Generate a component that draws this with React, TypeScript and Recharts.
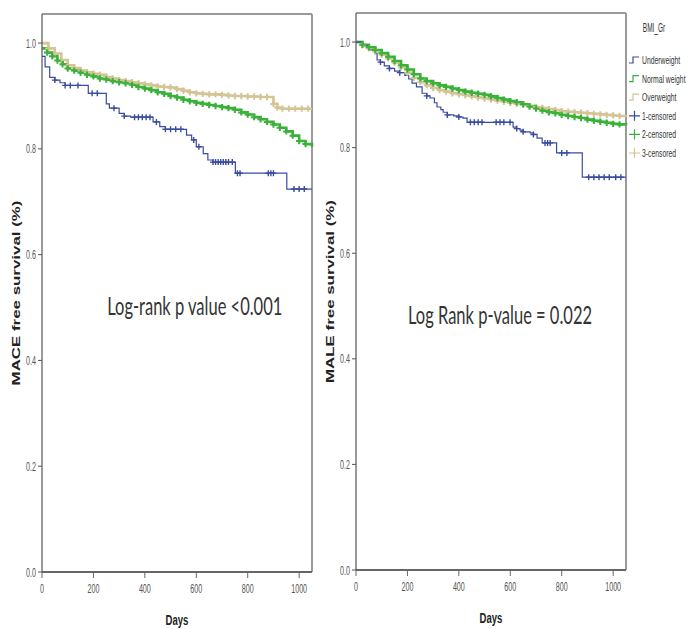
import React from 'react';
import { LineChart, Line, XAxis, YAxis, ReferenceLine, ReferenceDot } from 'recharts';

// [day, survival, censored]
type KM = [number, number, number?][];

const DAY_TICKS = [0, 200, 400, 600, 800, 1000];
const SURV_TICKS = [0, 0.2, 0.4, 0.6, 0.8, 1.0];
const GROUPS = ['Underweight', 'Normal weight', 'Overweight'];
const CENSORED = ['1-censored', '2-censored', '3-censored'];
const COLORS = ['#3a4c9e', '#3ab23a', '#d4c596'];

// MACE panel
const maceUnder: KM = [
  [0, 0.975], [12, 0.955], [30, 0.935], [50, 0.93, 1], [70, 0.925], [90, 0.92, 1], [110, 0.92, 1],
  [140, 0.92, 1], [180, 0.905], [195, 0.905, 1], [215, 0.905, 1], [250, 0.885], [262, 0.877],
  [280, 0.877, 1], [300, 0.867], [320, 0.862, 1], [345, 0.86], [360, 0.86, 1], [375, 0.86, 1],
  [390, 0.86, 1], [405, 0.86, 1], [420, 0.86, 1], [432, 0.851], [445, 0.851, 1], [458, 0.842],
  [480, 0.837, 1], [500, 0.837, 1], [520, 0.837, 1], [540, 0.837, 1], [562, 0.826], [582, 0.817],
  [590, 0.817, 1], [600, 0.804], [610, 0.804, 1], [627, 0.791], [645, 0.779], [665, 0.775, 1],
  [675, 0.775, 1], [685, 0.775, 1], [695, 0.775, 1], [705, 0.775, 1], [715, 0.775, 1], [725, 0.775, 1],
  [740, 0.775, 1], [752, 0.754], [760, 0.754, 1], [770, 0.754, 1], [880, 0.754, 1], [890, 0.754, 1],
  [900, 0.754, 1], [952, 0.724], [980, 0.724, 1], [1000, 0.724, 1], [1020, 0.724, 1], [1050, 0.724],
];
const maceNormal: KM = [
  [0, 0.99], [20, 0.982], [40, 0.975], [60, 0.967], [80, 0.96], [100, 0.952], [125, 0.948], [150, 0.944],
  [175, 0.94], [200, 0.937], [225, 0.933], [250, 0.931], [275, 0.928], [300, 0.926], [325, 0.924],
  [350, 0.921], [375, 0.917], [400, 0.914], [425, 0.911], [450, 0.907], [475, 0.904], [500, 0.9],
  [525, 0.897], [550, 0.893], [575, 0.89], [600, 0.887], [625, 0.885], [650, 0.883], [675, 0.881],
  [700, 0.879], [725, 0.877], [750, 0.874], [775, 0.869], [800, 0.865], [825, 0.86], [850, 0.856],
  [875, 0.851], [900, 0.846], [925, 0.84], [950, 0.833], [975, 0.825], [1000, 0.815], [1025, 0.809],
  [1050, 0.804],
];
const maceOver: KM = [
  [0, 1.0], [25, 0.99], [50, 0.98], [75, 0.968], [100, 0.958], [125, 0.953], [150, 0.948], [175, 0.945],
  [200, 0.942], [225, 0.94], [250, 0.936], [275, 0.933], [300, 0.93], [325, 0.928], [350, 0.926],
  [375, 0.924], [400, 0.922], [425, 0.92], [450, 0.918], [475, 0.917], [500, 0.916], [525, 0.913],
  [550, 0.91], [575, 0.907], [600, 0.905], [625, 0.904], [650, 0.903], [675, 0.903], [700, 0.902],
  [725, 0.901], [750, 0.9], [775, 0.9], [800, 0.899], [825, 0.899], [850, 0.898], [875, 0.898],
  [900, 0.885], [915, 0.878], [935, 0.876], [960, 0.876], [985, 0.876], [1010, 0.876], [1035, 0.876],
  [1050, 0.876],
];

// MALE panel
const maleUnder: KM = [
  [0, 1.0], [25, 0.993], [50, 0.985], [75, 0.978], [82, 0.966], [95, 0.962, 1], [110, 0.955],
  [130, 0.95, 1], [150, 0.945], [170, 0.942, 1], [190, 0.937], [205, 0.93], [218, 0.922], [235, 0.915],
  [257, 0.903], [275, 0.898, 1], [288, 0.894], [305, 0.885], [315, 0.877], [330, 0.872], [339, 0.867],
  [355, 0.862, 1], [380, 0.86], [400, 0.858, 1], [416, 0.856], [432, 0.848], [445, 0.848, 1],
  [460, 0.848, 1], [475, 0.848, 1], [490, 0.848, 1], [545, 0.848, 1], [560, 0.848, 1], [575, 0.848, 1],
  [599, 0.848, 1], [611, 0.839], [625, 0.836, 1], [638, 0.833], [650, 0.83, 1], [677, 0.828],
  [690, 0.825, 1], [704, 0.818], [724, 0.809], [735, 0.809, 1], [745, 0.809, 1], [755, 0.809, 1],
  [780, 0.79], [800, 0.79, 1], [820, 0.79, 1], [880, 0.744], [905, 0.744, 1], [925, 0.744, 1],
  [945, 0.744, 1], [965, 0.744, 1], [985, 0.744, 1], [1010, 0.744, 1], [1030, 0.744, 1], [1050, 0.744],
];
const maleNormal: KM = [
  [0, 1.0], [25, 0.995], [50, 0.99], [75, 0.985], [100, 0.979], [125, 0.972], [150, 0.964], [175, 0.956],
  [200, 0.948], [225, 0.939], [250, 0.931], [275, 0.926], [300, 0.922], [325, 0.918], [350, 0.915],
  [375, 0.912], [400, 0.909], [425, 0.906], [450, 0.904], [475, 0.902], [500, 0.9], [525, 0.897],
  [550, 0.894], [575, 0.891], [600, 0.888], [625, 0.886], [650, 0.882], [675, 0.878], [700, 0.874],
  [725, 0.87], [750, 0.867], [775, 0.865], [800, 0.862], [825, 0.86], [850, 0.858], [875, 0.856],
  [900, 0.853], [925, 0.851], [950, 0.849], [975, 0.847], [1000, 0.845], [1025, 0.844], [1050, 0.843],
];
const maleOver: KM = [
  [0, 1.0], [25, 0.994], [50, 0.988], [75, 0.982], [100, 0.976], [125, 0.969], [150, 0.961], [175, 0.952],
  [200, 0.942], [225, 0.932], [250, 0.924], [275, 0.918], [300, 0.913], [325, 0.909], [350, 0.906],
  [375, 0.903], [400, 0.901], [425, 0.899], [450, 0.897], [475, 0.895], [500, 0.893], [525, 0.891],
  [550, 0.889], [575, 0.887], [600, 0.885], [625, 0.883], [650, 0.881], [675, 0.879], [700, 0.877],
  [725, 0.875], [750, 0.873], [775, 0.871], [800, 0.869], [825, 0.868], [850, 0.867], [875, 0.866],
  [900, 0.865], [925, 0.864], [950, 0.863], [975, 0.862], [1000, 0.861], [1025, 0.86], [1050, 0.859],
];

const FONT = '"Liberation Sans", Arial, sans-serif';

// dense groups: every interior point carries a censor mark
const toRows = (arr: KM, dense: boolean) =>
  arr.map(([day, s, c], i) => ({
    day,
    s,
    c: dense ? (i > 0 && i < arr.length - 1 ? 1 : 0) : c ?? 0,
  }));

const censorDot = (color: string, w: number, arm: number) => (props: any) => {
  const { cx, cy, payload, index } = props;
  if (!payload || !payload.c || cx == null) return <g key={`c${index}`} />;
  return (
    <path
      key={`c${index}`}
      d={`M${cx - arm},${cy}h${arm * 2}M${cx},${cy - arm}v${arm * 2}`}
      stroke={color}
      strokeWidth={w}
      fill="none"
    />
  );
};

// horizontally squeezed text, like the original export
function Sq(props: any) {
  const { x, y, sx, children, fontFamily, ...rest } = props;
  return (
    <text
      transform={`translate(${x},${y}) scale(${sx},1)`}
      fontFamily={fontFamily || FONT}
      {...rest}
    >
      {children}
    </text>
  );
}

const xTick = (p: any) => (
  <Sq x={p.x} y={p.y} sx={0.55} textAnchor="middle" dy="0.72em" fontSize={13} fill="#555">
    {p.payload.value}
  </Sq>
);
const yTick = (p: any) => (
  <Sq x={p.x} y={p.y} sx={0.55} textAnchor="end" dy="0.35em" fontSize={13} fill="#555">
    {Number(p.payload.value).toFixed(1)}
  </Sq>
);

function LegendBox() {
  const rowY = (i: number) => 60 + i * 18.6;
  return (
    <g>
      <Sq x={334} y={32} sx={0.5} textAnchor="middle" fontSize={13} fill="#333">BMI_Gr</Sq>
      {GROUPS.map((g, i) => (
        <g key={g}>
          <path
            d={`M309,${rowY(i) + 3}h4v-6h6`}
            stroke={COLORS[i]}
            strokeWidth={1.2}
            fill="none"
          />
          <Sq x={322} y={rowY(i) + 4} sx={0.62} fontSize={11} fill="#333">{g}</Sq>
        </g>
      ))}
      {CENSORED.map((g, i) => (
        <g key={g}>
          <path
            d={`M309,${rowY(i + 3)}h11M314.5,${rowY(i + 3) - 5}v10`}
            stroke={COLORS[i]}
            strokeWidth={1.2}
            fill="none"
          />
          <Sq x={322} y={rowY(i + 3) + 4} sx={0.62} fontSize={11} fill="#333">{g}</Sq>
        </g>
      ))}
    </g>
  );
}

type PanelProps = {
  left: number;
  width: number;
  margin: { top: number; right: number; bottom: number; left: number };
  series: KM[];
  yLabel: string;
  note: string;
  noteAt: [number, number];
  noteScale: number;
  legend?: boolean;
};

function KMPanel(props: PanelProps) {
  const { left, width, margin, series, yLabel, note, noteAt, noteScale, legend } = props;
  return (
    <div style={{ position: 'absolute', left, top: 0 }}>
      <LineChart width={width} height={629} margin={margin}>
        <XAxis
          type="number"
          dataKey="day"
          domain={[0, 1050]}
          ticks={DAY_TICKS}
          height={30}
          tickSize={6}
          tickMargin={6}
          tick={xTick}
          axisLine={{ stroke: '#666', strokeWidth: 2 }}
          tickLine={{ stroke: '#666' }}
          label={(p: any) => (
            <Sq
              x={p.viewBox.x + p.viewBox.width / 2}
              y={p.viewBox.y + 53}
              sx={0.68}
              textAnchor="middle"
              fontWeight="bold"
              fontSize={14}
              fill="#222"
            >
              Days
            </Sq>
          )}
        />
        <YAxis
          type="number"
          domain={[0, 1.055]}
          ticks={SURV_TICKS}
          width={30}
          tickSize={4}
          tickMargin={2}
          tick={yTick}
          axisLine={{ stroke: '#555', strokeWidth: 1.2 }}
          tickLine={{ stroke: '#555' }}
          label={(p: any) => {
            const cx = p.viewBox.x + 4;
            const cy = p.viewBox.y + p.viewBox.height / 2;
            return (
              <text
                transform={`translate(${cx},${cy}) rotate(-90) scale(1.3,0.8)`}
                textAnchor="middle"
                dominantBaseline="central"
                fontFamily={FONT}
                fontWeight="bold"
                fontSize={13}
                fill="#222"
              >
                {yLabel}
              </text>
            );
          }}
        />
        <ReferenceLine y={1.055} stroke="#9a9a9a" strokeWidth={2} />
        <ReferenceLine x={1050} stroke="#9a9a9a" strokeWidth={2} />
        {[2, 1, 0].map((i) => (
          <Line
            key={GROUPS[i]}
            name={GROUPS[i]}
            data={toRows(series[i], i !== 0)}
            dataKey="s"
            type="stepAfter"
            stroke={COLORS[i]}
            strokeWidth={i === 0 ? 1.2 : 2.6}
            dot={censorDot(COLORS[i], i === 0 ? 1.4 : 2, i === 0 ? 3 : 3.2)}
            activeDot={false}
            isAnimationActive={false}
          />
        ))}
        <ReferenceDot
          x={noteAt[0]}
          y={noteAt[1]}
          r={1}
          fill="none"
          stroke="none"
          label={(p: any) => (
            <Sq
              x={p.viewBox.x + p.viewBox.width / 2}
              y={p.viewBox.y + p.viewBox.height / 2}
              sx={noteScale}
              textAnchor="middle"
              fontFamily="Lato, 'Open Sans', sans-serif"
              fontSize={25}
              fill="#333"
            >
              {note}
            </Sq>
          )}
        />
        {legend && <LegendBox />}
      </LineChart>
    </div>
  );
}

export default function App() {
  return (
    <div style={{ position: 'absolute', left: 0, top: 0, width: 688, height: 629, background: '#fff' }}>
      <KMPanel
        left={0}
        width={320}
        margin={{ top: 14, right: 8, bottom: 27, left: 12 }}
        series={[maceUnder, maceNormal, maceOver]}
        yLabel="MACE free survival (%)"
        note="Log-rank p value <0.001"
        noteAt={[594, 0.486]}
        noteScale={0.66}
      />
      <KMPanel
        left={320}
        width={368}
        margin={{ top: 13, right: 62, bottom: 29, left: 6 }}
        series={[maleUnder, maleNormal, maleOver]}
        yLabel="MALE free survival (%)"
        note="Log Rank p-value = 0.022"
        noteAt={[560, 0.465]}
        noteScale={0.66}
        legend
      />
    </div>
  );
}
